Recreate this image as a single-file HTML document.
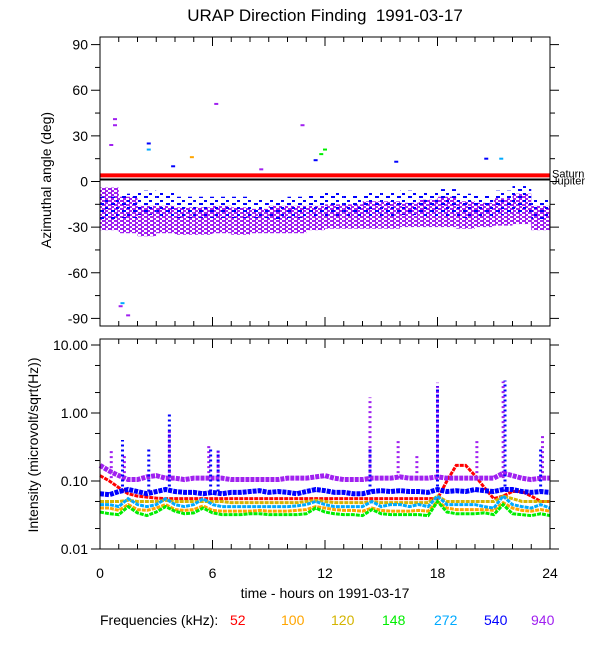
<!DOCTYPE html>
<html><head><meta charset="utf-8"><style>
html,body{margin:0;padding:0;background:#fff;}
svg{display:block;font-family:"Liberation Sans",Arial,sans-serif;}
</style></head><body>
<svg id="chart" width="600" height="650" viewBox="0 0 600 650" xmlns="http://www.w3.org/2000/svg">
<defs>
<pattern id="pp" width="6" height="4" patternUnits="userSpaceOnUse"><rect x="0" y="0" width="4" height="2" fill="#a020f0"/><rect x="3" y="2" width="3" height="2" fill="#a020f0"/></pattern>
<pattern id="bp" width="11" height="7" patternUnits="userSpaceOnUse"><rect x="1" y="0" width="4" height="2" fill="#0000ff"/><rect x="6" y="4" width="3" height="2" fill="#0000ff"/></pattern>
</defs>
<text x="325" y="21" font-size="17" text-anchor="middle" style="white-space:pre">URAP Direction Finding  1991-03-17</text>
<g id="topPanel"></g>
<g id="botPanel"></g>
<text transform="translate(51,180) rotate(-90)" font-size="14" text-anchor="middle">Azimuthal angle (deg)</text>
<text transform="translate(38,445) rotate(-90)" font-size="14" text-anchor="middle">Intensity (microvolt/sqrt(Hz))</text>
<text x="325" y="598" font-size="14" text-anchor="middle">time - hours on 1991-03-17</text>
<g font-size="14">
<text x="100" y="625">Frequencies (kHz):</text>
<text x="230" y="625" fill="#ff0000">52</text>
<text x="281" y="625" fill="#ffa500">100</text>
<text x="331" y="625" fill="#d4b400">120</text>
<text x="382" y="625" fill="#00ee00">148</text>
<text x="434" y="625" fill="#00aaff">272</text>
<text x="484" y="625" fill="#0000ff">540</text>
<text x="531" y="625" fill="#a020f0">940</text>
</g>
</svg>
<script>
// ---- data ----
const hours = [0,1,2,3,4,5,6,7,8,9,10,11,12,13,14,15,16,17,18,19,20,21,22,23,24];
const purpleCenter = [-18,-22,-26,-25,-26,-26,-25,-26,-26,-25,-25,-24,-23,-23,-22,-22,-22,-21,-20,-22,-22,-20,-18,-24,-25];
const purpleSpread = [14,12,10,9,9,9,9,9,8,9,9,8,8,8,9,9,8,9,10,9,8,9,10,8,8];
const blueCenter = [-18,-16,-14,-15,-17,-17,-17,-17,-18,-18,-17,-16,-15,-16,-15,-15,-14,-15,-14,-16,-16,-14,-12,-18,-20];
const blueSpread = [8,8,8,8,7,7,7,7,6,7,7,7,8,7,8,8,8,8,9,8,7,8,9,7,6];
const outT = [0.8,0.8,0.6,2.6,2.6,6.2,4.9,10.8,11.8,12.0,15.8,1.1,1.2,1.5,20.6,21.4,11.5,3.9,8.6];
const outA = [41,37,24,25,21,51,16,37,18,21,13,-82,-80,-88,15,15,14,10,8];
const outC = ['#a020f0','#a020f0','#a020f0','#0000ff','#00aaff','#a020f0','#ffa500','#a020f0','#00ee00','#00ee00','#0000ff','#a020f0','#00aaff','#a020f0','#0000ff','#00aaff','#0000ff','#0000ff','#a020f0'];
const saturnAngle = 4;
const jupiterAngle = 2;

const tHalf = [0,0.5,1,1.5,2,2.5,3,3.5,4,4.5,5,5.5,6,6.5,7,7.5,8,8.5,9,9.5,10,10.5,11,11.5,12,12.5,13,13.5,14,14.5,15,15.5,16,16.5,17,17.5,18,18.5,19,19.5,20,20.5,21,21.5,22,22.5,23,23.5,24];
const v940 = [0.17,0.14,0.12,0.105,0.105,0.115,0.12,0.11,0.11,0.105,0.11,0.11,0.11,0.11,0.105,0.105,0.105,0.105,0.105,0.105,0.11,0.11,0.11,0.115,0.12,0.11,0.105,0.105,0.105,0.11,0.11,0.11,0.115,0.11,0.11,0.11,0.115,0.11,0.11,0.11,0.11,0.11,0.11,0.13,0.12,0.11,0.105,0.11,0.11];
const v540 = [0.065,0.063,0.07,0.075,0.07,0.065,0.07,0.075,0.07,0.068,0.068,0.065,0.068,0.065,0.068,0.068,0.07,0.072,0.068,0.07,0.068,0.065,0.07,0.075,0.072,0.068,0.068,0.065,0.065,0.07,0.072,0.07,0.072,0.07,0.07,0.068,0.075,0.07,0.072,0.07,0.075,0.072,0.07,0.075,0.075,0.07,0.068,0.07,0.068];
const v272 = [0.045,0.045,0.042,0.055,0.045,0.042,0.045,0.055,0.045,0.042,0.045,0.055,0.045,0.042,0.042,0.042,0.042,0.042,0.042,0.042,0.042,0.043,0.045,0.05,0.045,0.042,0.042,0.042,0.042,0.05,0.042,0.045,0.045,0.042,0.045,0.042,0.06,0.045,0.045,0.045,0.045,0.042,0.04,0.06,0.045,0.042,0.04,0.045,0.04];
const v148 = [0.035,0.033,0.032,0.042,0.034,0.031,0.035,0.042,0.036,0.033,0.034,0.04,0.034,0.032,0.032,0.032,0.033,0.033,0.032,0.032,0.032,0.032,0.033,0.04,0.035,0.033,0.032,0.032,0.031,0.038,0.033,0.032,0.032,0.032,0.032,0.031,0.05,0.035,0.033,0.033,0.033,0.034,0.032,0.045,0.033,0.032,0.031,0.033,0.031];
const v100 = [0.04,0.04,0.037,0.045,0.038,0.037,0.04,0.045,0.038,0.037,0.038,0.043,0.037,0.036,0.036,0.036,0.036,0.037,0.036,0.036,0.036,0.037,0.038,0.042,0.04,0.038,0.037,0.037,0.036,0.04,0.037,0.036,0.036,0.036,0.037,0.036,0.05,0.04,0.038,0.038,0.038,0.038,0.037,0.048,0.04,0.037,0.036,0.038,0.036];
const v120 = [0.05,0.05,0.05,0.052,0.05,0.05,0.05,0.052,0.05,0.05,0.05,0.05,0.05,0.05,0.048,0.048,0.048,0.048,0.048,0.048,0.048,0.048,0.05,0.052,0.05,0.048,0.048,0.048,0.048,0.05,0.048,0.048,0.048,0.048,0.048,0.048,0.06,0.05,0.05,0.05,0.05,0.05,0.05,0.06,0.055,0.05,0.05,0.05,0.05];
const v52 = [0.12,0.1,0.08,0.065,0.06,0.058,0.056,0.055,0.055,0.055,0.055,0.055,0.055,0.055,0.055,0.055,0.055,0.055,0.055,0.055,0.055,0.055,0.055,0.055,0.055,0.055,0.055,0.055,0.055,0.055,0.055,0.055,0.055,0.055,0.055,0.055,0.055,0.1,0.17,0.17,0.12,0.08,0.055,0.06,0.07,0.07,0.06,0.05,0.05];
const spikeT = [0.6,1.3,1.2,2.6,3.7,3.7,5.8,5.9,6.3,6.3,14.4,14.4,15.9,16.9,18.0,18.0,20.1,21.6,21.5,23.6,23.5];
const spikeV = [0.3,0.25,0.4,0.3,0.6,1.0,0.35,0.3,0.3,0.28,1.7,0.3,0.4,0.25,2.8,2.5,0.4,3.0,2.9,0.5,0.3];
const spikeC = ['#a020f0','#a020f0','#0000ff','#0000ff','#a020f0','#0000ff','#a020f0','#0000ff','#a020f0','#0000ff','#a020f0','#0000ff','#a020f0','#a020f0','#a020f0','#0000ff','#a020f0','#0000ff','#a020f0','#a020f0','#0000ff'];
const azTicks = [90,60,30,0,-30,-60,-90];
const intTicks = [10,1,0.1,0.01];
const intTickLabels = ['10.00','1.00','0.10','0.01'];
const hourTicks = [0,6,12,18,24];

// ---- scales ----
const X0=100, X1=550;
const xs = t => X0 + t*(X1-X0)/24;
const TY0=37, TY1=326;
const ya = a => TY0 + (95-a)*(TY1-TY0)/190;
const BY0=339, BY1=549;
const yi = v => BY1 - 68*(Math.log10(v)+2);
const NS='http://www.w3.org/2000/svg';
function mk(tag, attrs, parent){ const e=document.createElementNS(NS,tag); for(const k in attrs) e.setAttribute(k,attrs[k]); parent.appendChild(e); return e; }
const topG=document.getElementById('topPanel'), botG=document.getElementById('botPanel');

// ---- top panel ----
for(let i=0;i<hours.length-1;i++){
  const x=xs(hours[i]), w=xs(hours[i+1])-x;
  const p=mk('rect',{x:x,y:ya(purpleCenter[i]+purpleSpread[i]),width:w,height:ya(purpleCenter[i]-purpleSpread[i])-ya(purpleCenter[i]+purpleSpread[i]),fill:'url(#pp)'},topG);
  
  
  const b=mk('rect',{x:x,y:ya(blueCenter[i]+blueSpread[i]),width:w,height:ya(blueCenter[i]-blueSpread[i])-ya(blueCenter[i]+blueSpread[i]),fill:'url(#bp)'},topG);
  
  
}
for(let i=0;i<outT.length;i++){
  const r=mk('rect',{x:xs(outT[i])-2,y:ya(outA[i])-1,width:4,height:2,fill:outC[i]},topG);
  
  
}
const sl=mk('line',{x1:X0,x2:X1,y1:ya(saturnAngle),y2:ya(saturnAngle),stroke:'#ff0000','stroke-width':4},topG);


const jl=mk('line',{x1:X0,x2:X1,y1:ya(jupiterAngle)+1,y2:ya(jupiterAngle)+1,stroke:'#000','stroke-width':2},topG);


const st=mk('text',{x:552,y:ya(saturnAngle)+2,'font-size':11},topG); st.textContent='Saturn';


const jt=mk('text',{x:552,y:ya(jupiterAngle)+6,'font-size':11},topG); jt.textContent='Jupiter';


const f1=mk('rect',{x:X0,y:TY0,width:X1-X0,height:TY1-TY0,fill:'none',stroke:'#000','stroke-width':1},topG);


for(let a=-90;a<=90;a+=15){
  const major=a%30===0, L=major?9:5;
  mk('line',{x1:X0-L,x2:X0,y1:ya(a),y2:ya(a),stroke:'#000'},topG);
  mk('line',{x1:X1,x2:X1+L,y1:ya(a),y2:ya(a),stroke:'#000'},topG);
}
azTicks.forEach(a=>{
  const t=mk('text',{x:X0-12,y:ya(a)+5,'font-size':14,'text-anchor':'end'},topG); t.textContent=a;
  
  
});
for(let h=0;h<=24;h++){
  const L=h%6===0?9:5;
  mk('line',{x1:xs(h),x2:xs(h),y1:TY1,y2:TY1-L,stroke:'#000'},topG);
  mk('line',{x1:xs(h),x2:xs(h),y1:TY0,y2:TY0+L,stroke:'#000'},topG);
}

// ---- bottom panel ----
const series=[[v52,'#ff0000','52'],[v100,'#ffa500','100'],[v120,'#d4b400','120'],[v148,'#00ee00','148'],[v272,'#00aaff','272'],[v540,'#0000ff','540'],[v940,'#a020f0','940']];
series.forEach(s=>{
  const pts=tHalf.map((t,i)=>xs(t)+','+yi(s[0][i])).join(' ');
  const pl=mk('polyline',{points:pts,fill:'none',stroke:s[1],'stroke-width':(s[2]==='540'||s[2]==='940')?5:3,'stroke-dasharray':'4 1'},botG);
  
  
});
for(let i=0;i<spikeT.length;i++){
  const base = spikeC[i]==='#a020f0'?0.11:0.07;
  const sp=mk('line',{x1:xs(spikeT[i]),x2:xs(spikeT[i]),y1:yi(base),y2:yi(spikeV[i]),stroke:spikeC[i],'stroke-width':3,'stroke-dasharray':'2 3'},botG);
  
  
}
const f2=mk('rect',{x:X0,y:BY0,width:X1-X0,height:BY1-BY0,fill:'none',stroke:'#000','stroke-width':1},botG);


intTicks.forEach((v,i)=>{
  mk('line',{x1:X0-9,x2:X0,y1:yi(v),y2:yi(v),stroke:'#000'},botG);
  mk('line',{x1:X1,x2:X1+9,y1:yi(v),y2:yi(v),stroke:'#000'},botG);
  const t=mk('text',{x:X0-12,y:yi(v)+5,'font-size':14,'text-anchor':'end'},botG); t.textContent=intTickLabels[i];
  
  
  if(v<10){[2,5].forEach(m=>{const vv=v*m; mk('line',{x1:X0-5,x2:X0,y1:yi(vv),y2:yi(vv),stroke:'#000'},botG); mk('line',{x1:X1,x2:X1+5,y1:yi(vv),y2:yi(vv),stroke:'#000'},botG);});}
});
for(let h=0;h<=24;h++){
  const L=h%6===0?9:5;
  mk('line',{x1:xs(h),x2:xs(h),y1:BY1,y2:BY1-L,stroke:'#000'},botG);
  mk('line',{x1:xs(h),x2:xs(h),y1:BY0,y2:BY0+L,stroke:'#000'},botG);
}
hourTicks.forEach(h=>{
  const t=mk('text',{x:xs(h),y:578,'font-size':14,'text-anchor':'middle'},botG); t.textContent=h;
  
  
});
</script>
</body></html>
